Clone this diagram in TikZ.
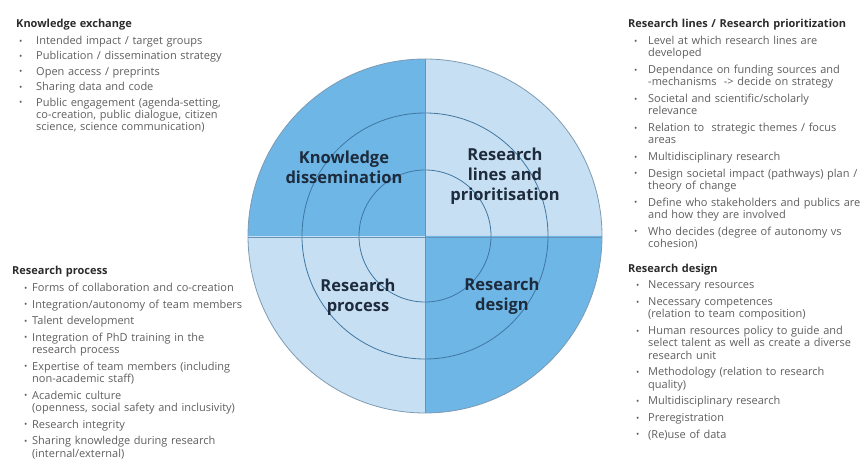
\documentclass[tikz,border=0pt]{standalone}
\usepackage{fontspec}
\setmainfont{Open Sans}
\usetikzlibrary{positioning}

\definecolor{quaddark}{HTML}{6EB6E6}
\definecolor{quadlight}{HTML}{C7DFF2}
\definecolor{ringline}{HTML}{3F77A3}
\definecolor{rimline}{HTML}{7D9BB3}
\definecolor{labelnavy}{HTML}{1D2B3C}
\definecolor{itemgrey}{HTML}{5E5E5E}
\definecolor{headgrey}{HTML}{2B2B2B}

% bullet list, #1 = offset of the bullet, #2 = gap between items
\newenvironment{pts}[2]{%
  \begin{list}{\raisebox{0.4pt}{\scalebox{0.8}{\textbullet}}}{%
    \setlength{\leftmargin}{20pt}%
    \setlength{\labelsep}{0pt}%
    \setlength{\labelwidth}{\dimexpr20pt-#1\relax}%
    \setlength{\itemsep}{#2}%
    \setlength{\parsep}{0pt}%
    \setlength{\topsep}{4.5pt}%
    \setlength{\partopsep}{0pt}%
    \def\makelabel##1{##1\hfil}}}%
  {\end{list}}
\newcommand{\head}[1]{{\color{headgrey}\bfseries #1}}

\begin{document}
\begin{tikzpicture}[x=1pt,y=-1pt,
  ring/.style={draw=ringline,line width=0.8pt},
  divider/.style={draw=ringline!80,line width=0.6pt},
  seglabel/.style={font=\fontsize{16.5}{20}\selectfont\bfseries,text=labelnavy,align=center,inner sep=0pt},
  block/.style={anchor=north west,inner sep=0pt,text width=240pt,align=left,
    font=\fontsize{11}{12.4}\selectfont,text=itemgrey}]
\useasboundingbox (0,0) rectangle (861,462);
\coordinate (c) at (425,236);

% Quadrants
\fill[quadlight] (c) circle[radius=177];
\fill[quaddark] (c) -- ++(-177,0) arc[start angle=180,end angle=270,radius=177] -- cycle;
\fill[quaddark] (c) -- ++(177,0) arc[start angle=0,end angle=90,radius=177] -- cycle;

% Rings
\draw[ring] (c) circle[radius=123];
\draw[ring] (c) circle[radius=66];
\draw[divider] (425,59) -- (425,413);
\draw[divider] (248,237) -- (602,237);
\draw[draw=rimline,line width=0.8pt] (c) circle[radius=177];

% Segment labels
\node[seglabel] (kd) at (344,167) {Knowledge\\dissemination};
\node[seglabel] (rl) at (505,176) {Research\\lines and\\prioritisation};
\node[seglabel] (rp) at (358,297) {Research\\process};
\node[seglabel] (rd) at (502,296) {Research\\design};

% Knowledge exchange
\node[block] (ke) at (16,19) {\head{Knowledge exchange}
\begin{pts}{3pt}{3pt}
\item Intended impact / target groups
\item Publication / dissemination strategy
\item Open access / preprints
\item Sharing data and code
\item Public engagement (agenda-setting,\\co-creation, public dialogue, citizen\\science, science communication)
\end{pts}};

% Research process
\node[block] (proc) at (12,266) {\head{Research process}
\begin{pts}{12pt}{4.2pt}
\item Forms of collaboration and co-creation
\item Integration/autonomy of team members
\item Talent development
\item Integration of PhD training in the\\research process
\item Expertise of team members (including\\non-academic staff)
\item Academic culture\\(openness, social safety and inclusivity)
\item Research integrity
\item Sharing knowledge during research\\(internal/external)
\end{pts}};

% Research lines / prioritization
\node[block] (lines) at (628,19) {\head{Research lines / Research prioritization}
\begin{pts}{6pt}{4.2pt}
\item Level at which research lines are\\developed
\item Dependance on funding sources and\\-mechanisms\ \ -> decide on strategy
\item Societal and scientific/scholarly\\relevance
\item Relation to\ \ strategic themes / focus\\areas
\item Multidisciplinary research
\item Design societal impact (pathways) plan /\\theory of change
\item Define who stakeholders and publics are\\and how they are involved
\item Who decides (degree of autonomy vs\\cohesion)
\end{pts}};

% Research design
\node[block] (design) at (628,263.5) {\head{Research design}
\begin{pts}{8pt}{4.2pt}
\item Necessary resources
\item Necessary competences\\(relation to team composition)
\item Human resources policy to guide and\\select talent as well as create a diverse\\research unit
\item Methodology (relation to research\\quality)
\item Multidisciplinary research
\item Preregistration
\item (Re)use of data
\end{pts}};
\end{tikzpicture}
\end{document}
